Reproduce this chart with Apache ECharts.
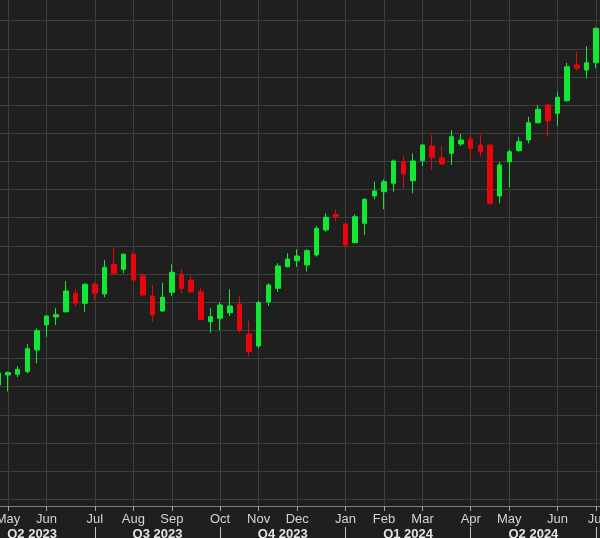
<!DOCTYPE html>
<html>
<head>
<meta charset="utf-8">
<script src="https://cdn.jsdelivr.net/npm/echarts@6/dist/echarts.min.js"></script>
<style>
html,body{margin:0;padding:0;background:#1e1f1e;}
#chart{width:600px;height:538px;}
</style>
</head>
<body>
<div id="chart"></div>
<script>
// Weekly periods (week ending dates)
const weeks = [
  '2023-04-28','2023-05-05','2023-05-12','2023-05-19','2023-05-26',
  '2023-06-02','2023-06-09','2023-06-16','2023-06-23','2023-06-30',
  '2023-07-07','2023-07-14','2023-07-21','2023-07-28',
  '2023-08-04','2023-08-11','2023-08-18','2023-08-25',
  '2023-09-01','2023-09-08','2023-09-15','2023-09-22','2023-09-29',
  '2023-10-06','2023-10-13','2023-10-20','2023-10-27',
  '2023-11-03','2023-11-10','2023-11-17','2023-11-24',
  '2023-12-01','2023-12-08','2023-12-15','2023-12-22','2023-12-29',
  '2024-01-05','2024-01-12','2024-01-19','2024-01-26',
  '2024-02-02','2024-02-09','2024-02-16','2024-02-23',
  '2024-03-01','2024-03-08','2024-03-15','2024-03-22','2024-03-28',
  '2024-04-05','2024-04-12','2024-04-19','2024-04-26',
  '2024-05-03','2024-05-10','2024-05-17','2024-05-24','2024-05-31',
  '2024-06-07','2024-06-14','2024-06-21','2024-06-28',
  '2024-07-05','2024-07-12'
];

const opens  = [13529,13707,13719,13766,14151,14595,14737,14831,15158,14980,15318,15146,15673,15584,15856,15471,15110,14844,15176,15495,15394,15186,14654,14714,14813,14968,14435,14222,15003,15247,15630,15737,15661,15838,16282,16561,16389,16057,16401,16886,16962,17112,17495,17158,17513,17774,17566,17644,17810,17898,17792,17792,16886,17495,17691,17881,18188,18502,18355,18579,19213,19124,19253];
const closes = [13742,13751,13808,14174,14494,14755,14778,15199,14980,15318,15158,15620,15513,15851,15394,15128,14773,15087,15531,15247,15186,14696,14742,14950,14932,14494,14121,14991,15305,15643,15767,15820,15915,16312,16508,16518,16016,16518,16827,16975,17140,17508,17277,17508,17792,17573,17454,17939,17881,17733,17673,16756,17437,17673,17850,18188,18426,18223,18639,19182,19154,19253,19864];
const lows   = [13423,13414,13666,13737,13915,14387,14595,14813,14920,14831,15039,15087,15490,15513,15385,15098,14654,14831,15115,15158,15158,14684,14458,14506,14755,14458,14032,14181,14932,15186,15620,15630,15542,15808,16252,16430,15957,16046,16193,16827,16650,16962,17023,16934,17419,17348,17437,17437,17774,17538,17584,16726,16756,17041,17673,17822,18177,17939,18129,18561,19111,18976,19154];
const highs  = [13778,13769,13867,14252,14536,14773,14897,15376,15229,15336,15353,15749,15975,15868,15868,15513,15305,15346,15673,15584,15471,15247,14892,14991,15229,15110,14671,15021,15336,15691,15868,15939,15939,16353,16579,16650,16401,16561,16845,17140,17183,17538,17596,17644,17810,17969,17774,18058,17987,17969,17969,17801,17495,17715,17939,18294,18502,18520,18738,19253,19449,19550,19882];

const monthNames = ['Jan','Feb','Mar','Apr','May','Jun','Jul','Aug','Sep','Oct','Nov','Dec'];
const quarterLabels = ['Q2 2023','Q3 2023','Q4 2023','Q1 2024','Q2 2024'];
const quarterBoundaryWeeks = ['2023-04-07','2023-07-07','2023-10-06','2024-01-05','2024-04-05','2024-07-05'];

const yMin = 11380, yMax = 20403;

// helpers
const monthOf = s => parseInt(s.slice(5,7),10) - 1;
const isMonthStart = i => i > 0 && monthOf(weeks[i]) !== monthOf(weeks[i-1]);
const weekIndex = s => Math.round((Date.parse(s) - Date.parse(weeks[0])) / (7*86400000));
const qb = quarterBoundaryWeeks.map(weekIndex);
const qCenters = quarterLabels.map((l,i) => (qb[i] + qb[i+1]) / 2);
const lastIdx = weeks.length - 1;

const candleData = opens.map((o,i) => [o, closes[i], lows[i], highs[i]]);

const UP = '#10e834', DOWN = '#e8050b';
const GRID = '#3d3f3d';
const FONT = 'Liberation Sans';

const chart = echarts.init(document.getElementById('chart'), null, {renderer:'canvas'});
chart.setOption({
  backgroundColor: '#1e1f1e',
  animation: false,
  grid: {left: -1.6, right: -5.7, top: -2, bottom: 32, containLabel: false, outerBoundsMode: 'none'},
  xAxis: [{
    type: 'category',
    data: weeks,
    boundaryGap: false,
    position: 'bottom',
    axisLine: {show: true, lineStyle: {color: '#808080', width: 1}},
    axisTick: {show: true, interval: (i) => isMonthStart(i), length: 5, lineStyle: {color: '#a0a0a0'}},
    axisLabel: {
      interval: (i) => isMonthStart(i),
      formatter: (v) => monthNames[monthOf(v)],
      color: '#d4d4d4', fontFamily: FONT, fontSize: 13, margin: 7,
      showMinLabel: true, showMaxLabel: true, hideOverlap: false
    },
    splitLine: {show: true, interval: (i) => isMonthStart(i), lineStyle: {color: GRID, width: 1}}
  }, {
    type: 'value',
    position: 'bottom',
    offset: 21,
    min: 0,
    max: lastIdx,
    axisLine: {show: false},
    splitLine: {show: false},
    axisTick: {show: true, customValues: qb.filter(v => v >= 0 && v <= lastIdx), length: 12, lineStyle: {color: '#c4c4c4'}},
    axisLabel: {
      customValues: qCenters,
      formatter: (v) => {
        const k = qCenters.findIndex(c => Math.abs(c - v) < 0.01);
        return k >= 0 ? quarterLabels[k] : '';
      },
      color: '#e4e4e4', fontFamily: FONT, fontSize: 13, fontWeight: 'bold', margin: 1,
      showMinLabel: true, showMaxLabel: true
    }
  }],
  yAxis: {
    type: 'value',
    min: yMin,
    max: yMax,
    splitNumber: 18,
    axisLine: {show: false},
    axisTick: {show: false},
    axisLabel: {show: false},
    splitLine: {show: true, lineStyle: {color: GRID, width: 1}}
  },
  series: [{
    type: 'candlestick',
    xAxisIndex: 0,
    yAxisIndex: 0,
    data: candleData,
    barWidth: 5,
    itemStyle: {color: UP, color0: DOWN, borderColor: UP, borderColor0: DOWN, borderWidth: 1},
    emphasis: {disabled: true}
  }]
});
</script>
</body>
</html>
